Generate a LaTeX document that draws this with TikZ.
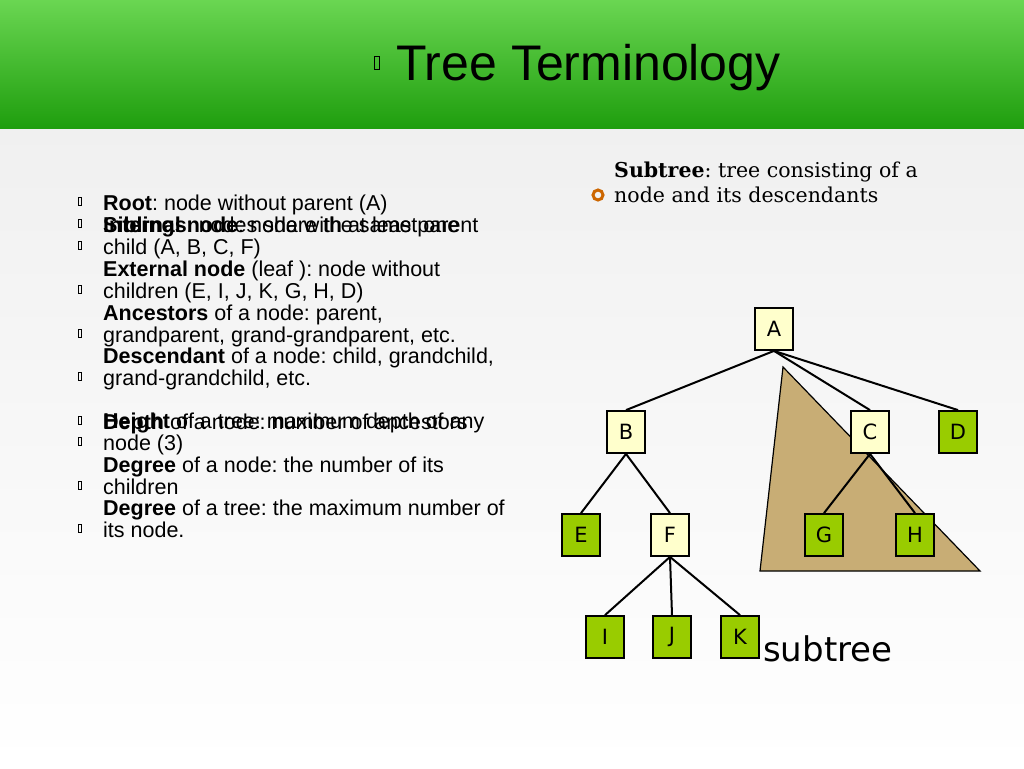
\documentclass[tikz,border=0pt]{standalone}
\usepackage{fontspec}
\setmainfont{Liberation Sans}
\newfontfamily\serifx{DejaVu Serif}
\newfontfamily\nodefont{DejaVu Sans}
\usetikzlibrary{positioning}
\definecolor{leafgreen}{HTML}{99CC00}
\definecolor{innerpale}{HTML}{FFFFCC}
\definecolor{subtan}{HTML}{C8AD75}
\definecolor{headtop}{HTML}{6AD652}
\definecolor{headbot}{HTML}{1F9E0E}
\frenchspacing
\begin{document}
\begin{tikzpicture}[x=1pt,y=-1pt,
  tnode/.style={draw,line width=1.8pt,minimum width=38pt,minimum height=42pt,inner sep=0pt,font=\nodefont\fontsize{21}{21}\selectfont},
  inner/.style={tnode,fill=innerpale},
  leaf/.style={tnode,fill=leafgreen},
  edge/.style={line width=2pt},
  item/.style={anchor=base west,align=left,inner sep=0pt,font=\fontsize{21.5}{21.8}\selectfont},
  tofu/.style={draw,line width=0.5pt}]
\useasboundingbox (0,0) rectangle (1024,768);
\shade[top color=white!93!black,bottom color=white] (0,0) rectangle (1024,768);
\shade[top color=headtop,bottom color=headbot] (0,0) rectangle (1024,128);
\draw[tofu] (374,56) rectangle (379,69);
\node[anchor=west,inner sep=0pt,font=\fontsize{50}{50}\selectfont] (title) at (396,68) {Tree Terminology};
% left list
\foreach \yy in {203,225,247,291,335,378,422,443,487,530}
  \draw[tofu] (78,\yy-6) rectangle (81,\yy+2);
\node[item] (root) at (103,210) {\textbf{Root}: node without parent (A)};
\node[item] (sib) at (103,232) {\textbf{Siblings}: nodes share the same parent};
\node[item] (int) at (103,254) {\textbf{Internal node}: node with at least one\\child (A, B, C, F)};
\node[item] (ext) at (103,298) {\textbf{External node} (leaf ): node without\\children (E, I, J, K, G, H, D)};
\node[item] (anc) at (103,342) {\textbf{Ancestors} of a node: parent,\\grandparent, grand-grandparent, etc.};
\node[item] (desc) at (103,385) {\textbf{Descendant} of a node: child, grandchild,\\grand-grandchild, etc.};
\node[item] (dep) at (103,429) {\textbf{Depth} of a node: number of ancestors};
\node[item] (hgt) at (103,450) {\textbf{Height} of a tree: maximum depth of any\\node (3)};
\node[item] (degn) at (103,494) {\textbf{Degree} of a node: the number of its\\children};
\node[item] (degt) at (103,537) {\textbf{Degree} of a tree: the maximum number of\\its node.};
% right text
\draw[orange!80!black,line width=3pt] (598,195) circle (5pt);
\node[anchor=base west,align=left,inner sep=0pt,font=\serifx\fontsize{20.5}{25}\selectfont] (subdef) at (614,202) {\textbf{Subtree}: tree consisting of a\\node and its descendants};
% tree
\filldraw[fill=subtan,line width=1.2pt] (783,367) -- (760,571) -- (980,571) -- cycle;
\node[inner] (A) at (774,329) {A};
\node[inner] (B) at (626,432) {B};
\node[inner] (C) at (870,432) {C};
\node[leaf] (D) at (958,432) {D};
\node[leaf] (E) at (581,535) {E};
\node[inner] (F) at (670,535) {F};
\node[leaf] (G) at (824,535) {G};
\node[leaf] (H) at (915,535) {H};
\node[leaf] (I) at (605,637) {I};
\node[leaf] (J) at (672,637) {J};
\node[leaf] (K) at (740,637) {K};
\foreach \p/\c in {A/B,A/C,A/D,B/E,B/F,C/G,C/H,F/I,F/J,F/K}
  \draw[edge] (\p.south) -- (\c.north);
\node[anchor=base west,inner sep=0pt,font=\nodefont\fontsize{34}{34}\selectfont] (sublbl) at (763,661) {subtree};
\end{tikzpicture}
\end{document}
